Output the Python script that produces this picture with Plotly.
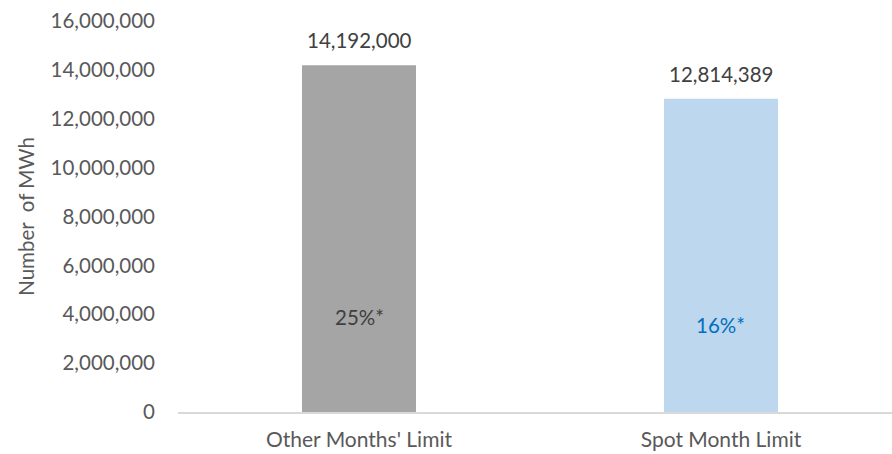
import plotly.graph_objects as go

categories = ["Other Months' Limit", "Spot Month Limit"]
values = [14192000, 12814389]
value_labels = ["14,192,000", "12,814,389"]
inner_labels = ["25%*", "16%*"]
bar_colors = ["#A5A5A5", "#BDD7EE"]
inner_colors = ["#404040", "#0070C0"]
inner_y = [3900000, 3570000]
tick_vals = list(range(0, 16000001, 2000000))
tick_text = [f"{v:,}" for v in tick_vals]

FONT = "Lato"
fig = go.Figure()
fig.add_trace(go.Bar(
    x=[0, 1], y=values, width=0.315,
    marker=dict(color=bar_colors, line=dict(width=0)),
    hoverinfo="skip",
))

for i, v in enumerate(values):
    fig.add_annotation(x=i, y=v, text=value_labels[i], showarrow=False,
                       yanchor="bottom", yshift=11,
                       font=dict(family=FONT, size=20.5, color="#404040"))
    fig.add_annotation(x=i, y=inner_y[i], text=inner_labels[i], showarrow=False,
                       yanchor="middle",
                       font=dict(family=FONT, size=20.5, color=inner_colors[i]))

fig.update_layout(
    width=892, height=454,
    margin=dict(l=178, r=0, t=21, b=42),
    paper_bgcolor="white", plot_bgcolor="white",
    showlegend=False,
    font=dict(family=FONT, size=20, color="#595959"),
    xaxis=dict(range=[-0.5, 1.4724], tickvals=[0, 1], ticktext=categories,
               showgrid=False, zeroline=False, showline=True,
               linecolor="#D9D9D9", linewidth=1.5, ticks="",
               ticklabelstandoff=8,
               tickfont=dict(family=FONT, size=21, color="#595959")),
    yaxis=dict(range=[0, 16000000], tickvals=tick_vals, ticktext=tick_text,
               showgrid=False, zeroline=False, showline=False, ticks="",
               ticklabelstandoff=22,
               tickfont=dict(family=FONT, size=20.5, color="#595959"),
               title=dict(text="Number  of MWh", standoff=10,
                          font=dict(family=FONT, size=20.5, color="#595959"))),
)
fig.write_html("out.html")
